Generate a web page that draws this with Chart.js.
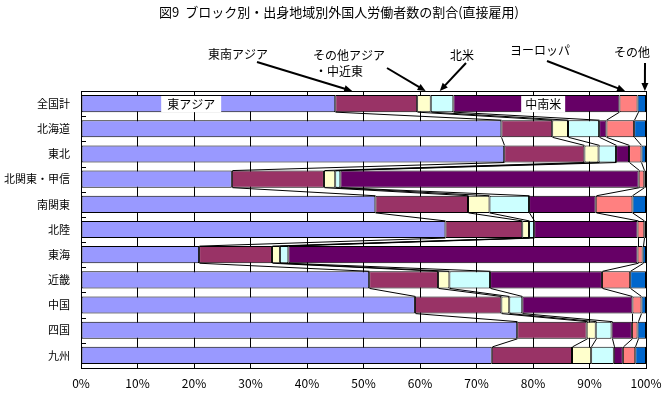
<!DOCTYPE html>
<html>
<head>
    <title>図9 ブロック別・出身地域別外国人労働者数の割合</title>
    <script src="https://cdn.jsdelivr.net/npm/chart.js"></script>
    <style>
        body { margin: 0; background: #fff; }
    </style>
</head>
<body>
    <canvas id="myChart" width="664" height="396"></canvas>
    <script>
        // データ（グラフから読み取った割合 %）
        const categories = ['全国計', '北海道', '東北', '北関東・甲信', '南関東', '北陸', '東海', '近畿', '中国', '四国', '九州'];
        const seriesNames = ['東アジア', '東南アジア', 'その他アジア・中近東', '北米', '中南米', 'ヨーロッパ', 'その他'];
        const eastAsia      = [45.0, 74.4, 74.9, 26.7, 52.1, 64.5, 20.9, 51.0, 59.1, 77.2, 72.7];
        const southeastAsia = [14.5,  9.0, 14.2, 16.3, 16.4, 13.6, 12.9, 12.2, 15.3, 12.3, 14.2];
        const otherAsia     = [ 2.4,  2.8,  2.5,  2.0,  3.8,  1.2,  1.4,  2.0,  1.4,  1.6,  3.4];
        const northAmerica  = [ 4.0,  5.5,  3.1,  0.9,  7.0,  0.9,  1.5,  7.2,  2.3,  2.8,  4.0];
        const latinAmerica  = [29.4,  1.3,  2.3, 52.8, 11.8, 18.3, 61.8, 19.8, 19.5,  3.6,  1.6];
        const europe        = [ 3.2,  4.9,  2.2,  1.0,  6.5,  1.2,  0.9,  5.0,  1.6,  1.0,  2.2];
        const others        = [ 1.5,  2.1,  0.8,  0.3,  2.4,  0.3,  0.6,  2.8,  0.8,  1.5,  1.9];
        const xTicks = [0, 10, 20, 30, 40, 50, 60, 70, 80, 90, 100];

        const colors = ['#9999FF', '#993366', '#FFFFCC', '#CCFFFF', '#660066', '#FF8080', '#0066CC'];
        const allSeries = [eastAsia, southeastAsia, otherAsia, northAmerica, latinAmerica, europe, others];

        const FONT = '"Noto Sans CJK JP", "Noto Sans", sans-serif';

        // 吹き出し（矢印付きラベル）
        const callouts = [
            { lines: ['東南アジア'], tx: [238], ty: [54], from: [257, 62], target: 48 },
            { lines: ['その他アジア', '・中近東'], tx: [349, 339], ty: [55, 71], from: [387, 68], target: 61 },
            { lines: ['北米'], tx: [462], ty: [55], from: [466, 63], target: 63.5 },
            { lines: ['ヨーロッパ'], tx: [540], ty: [50], from: [547, 61], target: 96.3 },
            { lines: ['その他'], tx: [632], ty: [52], from: [645, 63], target: 99.8 }
        ];
        // バー内ラベル（全国計の行）
        const innerLabels = [
            { text: '東アジア', value: 19.5, w: 60 },
            { text: '中南米', value: 81.8, w: 44 }
        ];

        const decorPlugin = {
            id: 'decor',
            afterDatasetsDraw(chart) {
                const ctx = chart.ctx;
                const area = chart.chartArea;
                const xs = chart.scales.x;
                const ys = chart.scales.y;
                ctx.save();

                // 区分線（系列線）
                ctx.strokeStyle = '#000';
                ctx.lineWidth = 1;
                for (let d = 0; d < allSeries.length - 1; d++) {
                    const meta = chart.getDatasetMeta(d).data;
                    for (let i = 0; i < meta.length - 1; i++) {
                        const a = meta[i], b = meta[i + 1];
                        ctx.beginPath();
                        ctx.moveTo(Math.round(a.x) + 0.5, a.y + a.height / 2);
                        ctx.lineTo(Math.round(b.x) + 0.5, b.y - b.height / 2);
                        ctx.stroke();
                    }
                }

                // 枠
                ctx.strokeRect(Math.round(area.left) + 0.5, Math.round(area.top) + 0.5,
                    Math.round(area.right - area.left), Math.round(area.bottom - area.top));

                // 左軸の内向き目盛（カテゴリ境界）
                for (let i = 1; i < categories.length; i++) {
                    const y = Math.round((ys.getPixelForValue(i - 1) + ys.getPixelForValue(i)) / 2) + 0.5;
                    ctx.beginPath();
                    ctx.moveTo(area.left, y);
                    ctx.lineTo(area.left + 5, y);
                    ctx.stroke();
                }

                // バー内ラベル
                const top = chart.getDatasetMeta(0).data[0];
                ctx.font = '12px ' + FONT;
                ctx.textAlign = 'center';
                ctx.textBaseline = 'middle';
                innerLabels.forEach(l => {
                    const cx = xs.getPixelForValue(l.value);
                    ctx.fillStyle = '#fff';
                    ctx.fillRect(cx - l.w / 2, top.y - top.height / 2 + 1, l.w, top.height - 1);
                    ctx.fillStyle = '#000';
                    ctx.fillText(l.text, cx, top.y + 1);
                });

                // タイトル
                ctx.font = '13px ' + FONT;
                ctx.fillText('図9  ブロック別・出身地域別外国人労働者数の割合(直接雇用)', 339, 12);

                // 吹き出し
                ctx.font = '12px ' + FONT;
                callouts.forEach(c => {
                    c.lines.forEach((t, k) => ctx.fillText(t, c.tx[k], c.ty[k]));
                    const x1 = c.from[0], y1 = c.from[1];
                    const x2 = xs.getPixelForValue(c.target), y2 = area.top;
                    const ang = Math.atan2(y2 - y1, x2 - x1);
                    ctx.lineWidth = 2;
                    ctx.beginPath();
                    ctx.moveTo(x1, y1);
                    ctx.lineTo(x2 - 6 * Math.cos(ang), y2 - 6 * Math.sin(ang));
                    ctx.stroke();
                    ctx.beginPath();
                    ctx.moveTo(x2, y2);
                    ctx.lineTo(x2 - 8 * Math.cos(ang) + 3.5 * Math.sin(ang), y2 - 8 * Math.sin(ang) - 3.5 * Math.cos(ang));
                    ctx.lineTo(x2 - 8 * Math.cos(ang) - 3.5 * Math.sin(ang), y2 - 8 * Math.sin(ang) + 3.5 * Math.cos(ang));
                    ctx.closePath();
                    ctx.fillStyle = '#000';
                    ctx.fill();
                });
                ctx.restore();
            }
        };

        const ctx = document.getElementById('myChart').getContext('2d');
        const chart = new Chart(ctx, {
            type: 'bar',
            data: {
                labels: categories,
                datasets: allSeries.map((vals, i) => ({
                    label: seriesNames[i],
                    data: vals,
                    backgroundColor: colors[i],
                    borderColor: '#000',
                    borderWidth: 1,
                    borderSkipped: false,
                    barPercentage: 0.68,
                    categoryPercentage: 1.0
                }))
            },
            options: {
                indexAxis: 'y',
                responsive: false,
                animation: false,
                layout: { padding: { top: 91, right: 18, left: 0, bottom: 0 } },
                plugins: {
                    legend: { display: false },
                    tooltip: { enabled: false }
                },
                scales: {
                    x: {
                        stacked: true,
                        min: 0,
                        max: 100,
                        afterBuildTicks: s => { s.ticks = xTicks.map(v => ({ value: v })); },
                        afterFit: s => { s.height = 28; s.paddingLeft = 0; s.paddingRight = 0; },
                        grid: { color: '#000', lineWidth: 1, drawTicks: false },
                        border: { display: false },
                        ticks: {
                            color: '#000',
                            font: { family: FONT, size: 12 },
                            padding: 8,
                            maxRotation: 0,
                            callback: v => v + '%'
                        }
                    },
                    y: {
                        stacked: true,
                        afterFit: s => { s.width = 81; s.paddingTop = 0; s.paddingBottom = 0; },
                        grid: { display: false, drawTicks: false },
                        border: { display: false },
                        ticks: {
                            color: '#000',
                            font: { family: FONT, size: 11 },
                            padding: 11
                        }
                    }
                }
            },
            plugins: [decorPlugin]
        });
    </script>
</body>
</html>
